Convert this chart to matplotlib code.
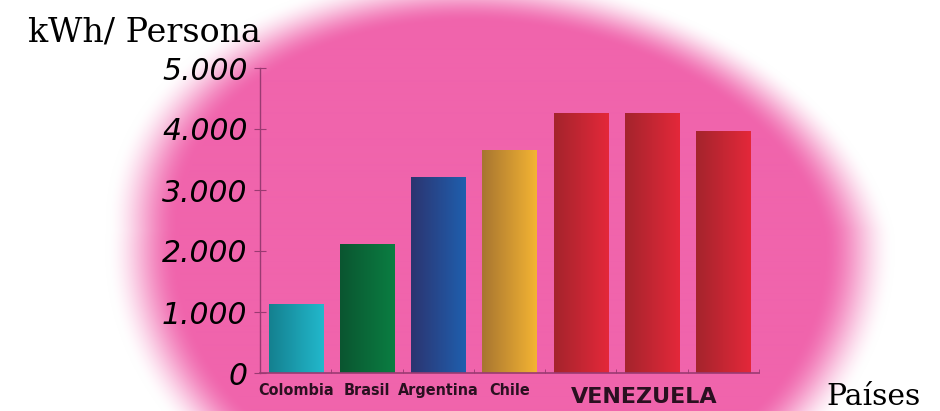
import numpy as np
import matplotlib
matplotlib.use("Agg")
import matplotlib.pyplot as plt
from matplotlib.colors import LinearSegmentedColormap

# ---- data ----
categories = ["Colombia", "Brasil", "Argentina", "Chile", "", "", ""]
values = [1130, 2120, 3220, 3650, 4260, 4260, 3960]
group_label = "VENEZUELA"
group_members = [4, 5, 6]
yticks = [0, 1000, 2000, 3000, 4000, 5000]
ytick_labels = ["0", "1.000", "2.000", "3.000", "4.000", "5.000"]
bar_colors = [
    ("#14808f", "#22b8cc"),
    ("#0a5530", "#0b7e42"),
    ("#2c3470", "#1f5fae"),
    ("#a77530", "#f4b433"),
    ("#a4242c", "#e4283a"),
    ("#a4242c", "#e4283a"),
    ("#a4242c", "#e4283a"),
]

W, H = 940, 411
fig = plt.figure(figsize=(W / 100, H / 100), dpi=100)

# ---- pink radial background ----
bg = fig.add_axes([0, 0, 1, 1], zorder=0)
xx, yy = np.meshgrid(np.arange(W), np.arange(H))
cy, a = 250, 362
b = np.where(yy < cy, 255, 285)
cx = 500 - 35 * np.clip((230 - yy) / 230, 0, 1)
r = np.sqrt(((xx - cx) / a) ** 2 + ((yy - cy) / b) ** 2)
t = np.clip((1.09 - r) / 0.2, 0, 1)
t = t * t * (3 - 2 * t)
pink = np.array([240, 100, 172]) / 255.0
img = np.ones((H, W, 3)) * (1 - t[..., None]) + pink * t[..., None]
bg.imshow(img, extent=[0, W, H, 0], aspect="auto", interpolation="bilinear")
bg.set_xlim(0, W)
bg.set_ylim(H, 0)
bg.axis("off")

# ---- main axes ----
left, right = 260 / W, 759 / W
bottom = (H - 373) / H
top = (H - 68) / H
ax = fig.add_axes([left, bottom, right - left, top - bottom], zorder=1)
ax.patch.set_alpha(0)
x = np.arange(len(values))
bars = ax.bar(x, values, width=0.76, color="none", edgecolor="none")
grad = np.linspace(0, 1, 256).reshape(1, -1)
for bar, (c0, c1) in zip(bars, bar_colors):
    cmap = LinearSegmentedColormap.from_list("g", [c0, c1])
    bx, by = bar.get_x(), bar.get_y()
    bw, bh = bar.get_width(), bar.get_height()
    im = ax.imshow(grad, cmap=cmap, aspect="auto",
                   extent=[bx, bx + bw, by, by + bh], zorder=2)
    im.set_clip_path(bar)

ax.set_xlim(-0.5, len(values) - 0.5)
ax.set_ylim(0, 5000)
for s in ["top", "right"]:
    ax.spines[s].set_visible(False)
axis_col = "#9a3a72"
ax.spines["left"].set_color(axis_col)
ax.spines["bottom"].set_color(axis_col)
ax.spines["left"].set_linewidth(1.0)
ax.spines["bottom"].set_linewidth(1.2)

ax.set_yticks(yticks)
ax.set_yticklabels(ytick_labels, fontsize=21.5, style="italic",
                   family="DejaVu Sans")
ax.tick_params(axis="y", direction="inout", length=8, color=axis_col,
               pad=5)
ax.set_xticks(x)
ax.set_xticklabels(categories, fontsize=11.5, fontweight="bold",
                   family="DejaVu Sans", fontstretch="condensed",
                   color="#2a1020")
ax.tick_params(axis="x", length=0, pad=7)
ax.set_xticks(np.arange(-0.5, len(values)), minor=True)
ax.tick_params(axis="x", which="minor", direction="in", length=3,
               color=axis_col)

gx = np.mean([x[i] for i in group_members])
ax.text(gx - 0.11, -0.045, group_label, transform=ax.get_xaxis_transform(),
        ha="center", va="top", fontsize=16, fontweight="bold",
        family="DejaVu Sans", color="#2a1020")

fig.text(28 / W, 1 - 42 / H, "kWh/ Persona", fontsize=24,
         family="DejaVu Serif", ha="left", va="baseline")
fig.text(826 / W, 1 - 405 / H, "Países", fontsize=21.5,
         family="DejaVu Serif", ha="left", va="baseline")

fig.savefig("out.png", dpi=100)
